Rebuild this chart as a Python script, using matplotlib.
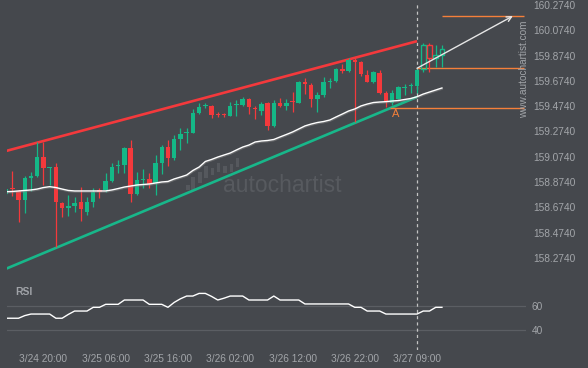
import matplotlib
matplotlib.use('Agg')
import matplotlib.pyplot as plt
from matplotlib.patches import Rectangle
import matplotlib.patheffects as pe

plt.rcParams['font.family'] = ['Liberation Sans', 'DejaVu Sans']

# ---------------- data ----------------
opens = [158.778, 158.825, 158.804, 158.733, 158.909, 158.925, 159.070, 158.983, 158.993, 158.706,
         158.667, 158.685, 158.717, 158.640, 158.717, 158.812, 158.812, 158.883, 159.005, 159.009,
         159.141, 158.778, 158.891, 158.896, 158.865, 159.027, 159.154, 159.062, 159.212, 159.260,
         159.265, 159.418, 159.472, 159.476, 159.412, 159.412, 159.399, 159.480, 159.483, 159.529,
         159.461, 159.438, 159.502, 159.318, 159.502, 159.476, 159.513, 159.502, 159.668, 159.642,
         159.531, 159.563, 159.669, 159.673, 159.768, 159.752, 159.839, 159.826, 159.721, 159.663,
         159.739, 159.576, 159.502, 159.529, 159.618, 159.630, 159.634, 159.766, 159.958, 159.853,
         159.879]
highs = [158.823, 158.962, 158.812, 158.922, 158.951, 159.189, 159.189, 158.995, 159.023, 158.717,
         158.772, 158.759, 158.838, 158.759, 158.830, 158.827, 158.946, 159.025, 159.049, 159.154,
         159.207, 158.956, 158.978, 158.946, 159.088, 159.167, 159.207, 159.246, 159.304, 159.304,
         159.452, 159.499, 159.499, 159.480, 159.430, 159.423, 159.510, 159.523, 159.549, 159.539,
         159.476, 159.510, 159.510, 159.523, 159.536, 159.529, 159.589, 159.676, 159.699, 159.655,
         159.589, 159.707, 159.699, 159.778, 159.805, 159.857, 159.853, 159.831, 159.760, 159.752,
         159.760, 159.597, 159.602, 159.634, 159.650, 159.655, 159.766, 159.976, 159.976, 159.958,
         159.958]
lows = [158.772, 158.767, 158.556, 158.627, 158.804, 158.914, 158.851, 158.851, 158.363, 158.601,
        158.606, 158.635, 158.569, 158.614, 158.680, 158.751, 158.798, 158.875, 158.946, 158.946,
        158.719, 158.772, 158.827, 158.825, 158.772, 158.938, 159.001, 159.049, 159.128, 159.181,
        159.262, 159.412, 159.460, 159.381, 159.391, 159.386, 159.397, 159.399, 159.476, 159.412,
        159.370, 159.404, 159.286, 159.312, 159.465, 159.444, 159.430, 159.499, 159.568, 159.470,
        159.430, 159.549, 159.620, 159.663, 159.734, 159.744, 159.347, 159.713, 159.663, 159.657,
        159.570, 159.465, 159.483, 159.529, 159.563, 159.576, 159.576, 159.747, 159.747, 159.786,
        159.786]
closes = [158.819, 158.816, 158.733, 158.909, 158.925, 159.070, 158.983, 158.993, 158.719, 158.667,
          158.685, 158.706, 158.661, 158.719, 158.796, 158.798, 158.883, 158.996, 159.013, 159.146,
          158.778, 158.891, 158.899, 158.857, 159.027, 159.154, 159.062, 159.212, 159.254, 159.268,
          159.418, 159.470, 159.480, 159.407, 159.404, 159.404, 159.476, 159.487, 159.529, 159.465,
          159.453, 159.491, 159.318, 159.502, 159.476, 159.502, 159.506, 159.668, 159.647, 159.531,
          159.563, 159.668, 159.677, 159.768, 159.752, 159.839, 159.826, 159.726, 159.668, 159.742,
          159.576, 159.510, 159.576, 159.623, 159.626, 159.638, 159.760, 159.958, 159.853, 159.879,
          159.924]
moving_avg = [158.798, 158.800, 158.804, 158.808, 158.812, 158.819, 158.831, 158.838, 158.831, 158.819,
              158.808, 158.804, 158.804, 158.804, 158.804, 158.804, 158.804, 158.812, 158.823, 158.835,
              158.843, 158.851, 158.855, 158.859, 158.867, 158.875, 158.879, 158.899, 158.914, 158.930,
              158.966, 158.993, 159.037, 159.053, 159.072, 159.088, 159.104, 159.128, 159.151, 159.167,
              159.191, 159.199, 159.203, 159.211, 159.231, 159.250, 159.270, 159.294, 159.318, 159.333,
              159.345, 159.353, 159.365, 159.389, 159.412, 159.436, 159.452, 159.476, 159.491, 159.503,
              159.507, 159.510, 159.515, 159.519, 159.527, 159.535, 159.549, 159.570, 159.586, 159.602,
              159.618]
rsi = [49.8, 49.8, 49.8, 52, 53.3, 53.3, 53.3, 53.3, 49.8, 49.8,
       53, 55.8, 55.8, 55.8, 58.9, 58.9, 61.4, 61.4, 61.4, 65,
       65, 65, 65, 61.4, 61.4, 61.4, 58.9, 63, 66, 68.3,
       68.3, 70.5, 70.5, 68, 65, 66.5, 68.3, 68.3, 68.3, 65,
       65, 65, 65, 68.3, 65, 65, 65, 65, 61.7, 61.7,
       61.7, 61.7, 61.7, 61.7, 61.7, 61.7, 58.9, 58.9, 55.8, 55.8,
       55.8, 53.3, 53.3, 53.3, 53.3, 53.3, 53.3, 55.8, 55.8, 58.9,
       58.9]
pattern_end = 66                      # index of 3/27 09:00 candle (pattern completion)
upper_line = [(0, 159.120), (66, 159.988)]
lower_line = [(0, 158.189), (66, 159.547)]
resistance_level = 159.774
support_level = 159.457
target_level = 160.187
xtick_idx = [6, 16, 26, 36, 46, 56, 66]
xtick_labels = ["3/24 20:00", "3/25 06:00", "3/25 16:00", "3/26 02:00",
                "3/26 12:00", "3/26 22:00", "3/27 09:00"]
ytick_vals = [158.274, 158.474, 158.674, 158.874, 159.074, 159.274,
              159.474, 159.674, 159.874, 160.074, 160.274]
rsi_ticks = [40, 60]

# ---------------- style ----------------
BG = '#45484d'
GREEN = '#14b887'
RED = '#f4393c'
ORANGE = '#f5803a'
TXT = '#a2a5a9'

W, H = 588, 368
fig = plt.figure(figsize=(5.88, 3.68), dpi=100)
fig.patch.set_facecolor(BG)


def rect(x0, y0, x1, y1):
    return [x0 / W, 1 - y1 / H, (x1 - x0) / W, (y1 - y0) / H]


ax = fig.add_axes(rect(6.7, 0, 526, 283))
axr = fig.add_axes(rect(6.7, 283, 526, 350), sharex=ax)
for a in (ax, axr):
    a.set_facecolor(BG)
    for s in a.spines.values():
        s.set_visible(False)

ax.set_xlim(0.1, 83.5)
ax.set_ylim(158.0763, 160.3135)
axr.set_ylim(23.33, 79.17)

# watermark logo + text
logo = [(188, 185, 190), (193, 177, 190), (200, 172, 183), (206, 166, 178), (212.5, 168, 175),
        (218.5, 163, 172), (225, 166, 173), (231.5, 164, 172), (237.5, 158, 167)]
for (px, yt, yb) in logo:
    x0 = (px - 1.6 - 6.7) / 519.3
    ax.add_patch(Rectangle((x0, 1 - yb / 283), 3.2 / 519.3, (yb - yt) / 283,
                           transform=ax.transAxes, color='#55585d', lw=0, zorder=0))
ax.text((282 - 6.7) / 519.3, 1 - 185 / 283, 'autochartist', transform=ax.transAxes,
        ha='center', va='center', fontsize=16.5, color='#575a5f', zorder=0)

# channel lines
ax.plot([p[0] for p in upper_line], [p[1] for p in upper_line], color=RED, lw=1.9,
        solid_capstyle='butt', zorder=2)
ax.plot([p[0] for p in lower_line], [p[1] for p in lower_line], color='#18b78a', lw=1.9,
        solid_capstyle='butt', zorder=2)

# moving average
n = len(closes)
ax.plot(range(n), moving_avg, color='white', lw=1.0, zorder=4,
        path_effects=[pe.SimpleLineShadow(offset=(0.3, -0.8), shadow_color='#8a8a8a', alpha=0.5),
                      pe.Normal()])

# candles
bw = 0.72
for i in range(n):
    o, h, l, c = opens[i], highs[i], lows[i], closes[i]
    col = GREEN if c >= o else RED
    hollow = i > pattern_end
    bottom = min(o, c)
    height = max(abs(c - o), 0.008)
    if hollow:
        ax.vlines(i, l, bottom, color=col, lw=0.9, zorder=3)
        ax.vlines(i, bottom + height, h, color=col, lw=0.9, zorder=3)
        ax.add_patch(Rectangle((i - bw / 2, bottom), bw, height, facecolor='none',
                               edgecolor=col, lw=1.0, zorder=3))
    else:
        ax.vlines(i, l, h, color=col, lw=0.9, zorder=3)
        ax.add_patch(Rectangle((i - bw / 2, bottom), bw, height, facecolor=col,
                               edgecolor='none', zorder=3))

# levels
ax.hlines(resistance_level, pattern_end, 83.2, color=ORANGE, lw=1.0, zorder=2)
ax.hlines(support_level, 61.7, 83.2, color=ORANGE, lw=1.0, zorder=2)
ax.hlines(target_level, 70, 83.2, color=ORANGE, lw=1.0, zorder=2)
ax.annotate('', xy=(81.4, target_level), xytext=(pattern_end, resistance_level),
            arrowprops=dict(arrowstyle='->', color='#e6e6e6', lw=1.0,
                            shrinkA=0, shrinkB=0, mutation_scale=9), zorder=5)
ax.text(62.5, 159.412, 'A', color=ORANGE, fontsize=8, ha='center', va='center', zorder=5)

# vertical dashed line
ax.axvline(pattern_end, ymin=0, ymax=1 - 4 / 283, color='#c4c4c4', lw=0.9,
           dashes=(2.5, 2.5), zorder=1)
axr.axvline(pattern_end, color='#c4c4c4', lw=0.9, dashes=(2.5, 2.5), zorder=1)

# y axis labels main
ax.set_yticks(ytick_vals)
ax.set_yticklabels([f"{v:.4f}" for v in ytick_vals])
ax.tick_params(axis='y', left=False, right=False, labelleft=False, labelright=True,
               length=0, pad=5, labelsize=7.3, labelcolor=TXT)
ax.tick_params(axis='x', bottom=False, labelbottom=False, length=0)

# vertical website text
fig.text(524 / W, 1 - 69 / H, 'www.autochartist.com', rotation=90, ha='center',
         va='center', fontsize=7.2, color=TXT)

# RSI panel
for v in rsi_ticks:
    axr.axhline(v, color='#5b5e63', lw=0.9, zorder=0)
axr.plot(range(n), rsi, color='white', lw=1.0, zorder=3)
axr.set_yticks(rsi_ticks)
axr.set_yticklabels([str(v) for v in rsi_ticks])
axr.tick_params(axis='y', left=False, right=False, labelleft=False, labelright=True,
                length=0, pad=4, labelsize=7.3, labelcolor=TXT)
axr.set_xticks(xtick_idx)
axr.set_xticklabels(xtick_labels)
axr.tick_params(axis='x', bottom=False, length=0, pad=3, labelsize=7.3, labelcolor=TXT)
axr.text((15 - 6.7) / 519.3, 1 - (292 - 283) / 67, 'RSI', transform=axr.transAxes,
         ha='left', va='center', fontsize=7.5, fontweight='bold', color='#a0a3a8')

fig.savefig('out.png', dpi=100, facecolor=BG)
